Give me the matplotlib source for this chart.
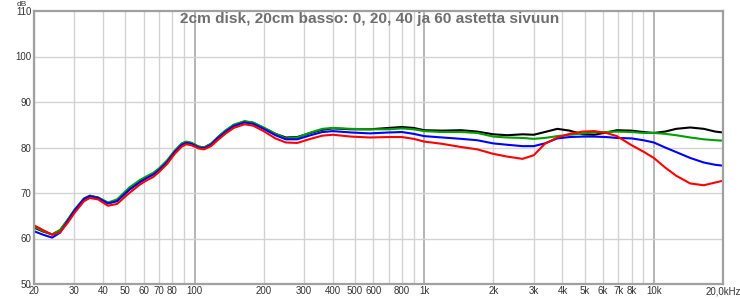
import matplotlib
matplotlib.use("Agg")
import matplotlib.pyplot as plt
import numpy as np

plt.rcParams['font.family'] = ['Liberation Sans', 'DejaVu Sans']

title = "2cm disk, 20cm basso: 0, 20, 40 ja 60 astetta sivuun"

freqs = [20, 22, 24, 26, 28, 30, 33, 35, 38, 42, 46, 52, 58, 62, 66, 70, 76, 82, 88, 92,
         97, 104, 110, 118, 126, 136, 148, 165, 180, 200, 225, 250, 280, 320, 360, 400,
         480, 580, 700, 800, 900, 1000, 1200, 1450, 1700, 2000, 2300, 2680, 3000, 3350,
         3800, 4300, 4900, 5500, 6200, 6900, 8000, 9000, 10000, 11200, 12500, 14400,
         16500, 18500, 20000]

deg0 = [62.4, 61.5, 60.9, 61.8, 64.0, 66.2, 68.7, 69.4, 69.0, 67.8, 68.3, 70.8, 72.6, 73.5,
        74.2, 75.2, 77.0, 79.2, 80.8, 81.2, 81.0, 80.2, 80.0, 80.8, 82.2, 83.6, 84.9, 85.7,
        85.4, 84.3, 83.0, 82.2, 82.3, 83.2, 83.9, 84.2, 84.0, 84.0, 84.3, 84.5, 84.3, 83.8,
        83.7, 83.8, 83.5, 82.9, 82.7, 82.9, 82.8, 83.4, 84.1, 83.7, 82.9, 82.8, 83.3, 83.8,
        83.7, 83.4, 83.2, 83.5, 84.1, 84.4, 84.1, 83.5, 83.3]

deg20 = [62.6, 61.6, 60.9, 61.9, 64.1, 66.3, 68.8, 69.4, 69.0, 67.9, 68.6, 71.2, 72.9, 73.7,
         74.4, 75.4, 77.2, 79.3, 80.9, 81.3, 81.0, 80.2, 80.0, 80.8, 82.2, 83.7, 85.0, 85.8,
         85.5, 84.4, 83.0, 82.0, 82.2, 83.3, 84.1, 84.3, 84.1, 84.0, 84.0, 84.2, 84.0, 83.6,
         83.4, 83.4, 83.2, 82.4, 82.2, 82.1, 81.9, 82.1, 82.5, 82.8, 83.1, 83.3, 83.4, 83.5,
         83.4, 83.2, 83.2, 83.0, 82.7, 82.2, 81.8, 81.6, 81.5]

deg40 = [61.6, 60.8, 60.2, 61.3, 63.8, 66.1, 68.7, 69.3, 68.9, 67.7, 68.2, 70.7, 72.4, 73.3,
         74.0, 75.0, 76.8, 79.0, 80.6, 81.0, 80.8, 80.0, 79.8, 80.6, 82.0, 83.4, 84.7, 85.5,
         85.2, 84.1, 82.7, 81.8, 81.8, 82.7, 83.4, 83.6, 83.3, 83.1, 83.3, 83.4, 83.0, 82.5,
         82.2, 81.9, 81.6, 80.9, 80.6, 80.3, 80.3, 80.9, 82.0, 82.3, 82.4, 82.4, 82.3, 82.1,
         82.0, 81.6, 81.1, 80.0, 79.0, 77.7, 76.7, 76.2, 76.0]

deg60 = [62.9, 61.8, 60.8, 61.4, 63.4, 65.6, 68.2, 68.9, 68.6, 67.2, 67.6, 70.0, 71.9, 72.8,
         73.5, 74.6, 76.4, 78.6, 80.2, 80.7, 80.5, 79.8, 79.6, 80.3, 81.6, 83.0, 84.3, 85.1,
         84.8, 83.6, 82.0, 81.1, 81.0, 81.9, 82.6, 82.8, 82.4, 82.2, 82.3, 82.3, 81.9, 81.3,
         80.8, 80.1, 79.6, 78.6, 78.0, 77.5, 78.3, 80.8, 82.2, 83.0, 83.5, 83.6, 83.2, 82.5,
         80.5, 79.1, 77.7, 75.6, 73.8, 72.1, 71.7, 72.3, 72.7]

series = [(deg0, '#000000'), (deg20, '#00a000'), (deg40, '#0000ff'), (deg60, '#ff0000')]

xtick_vals = [20, 30, 40, 50, 60, 70, 80, 100, 200, 300, 400, 500, 600, 800,
              1000, 2000, 3000, 4000, 5000, 6000, 7000, 8000, 10000, 20000]
xtick_labels = ['20', '30', '40', '50', '60', '70', '80', '100', '200', '300', '400',
                '500', '600', '800', '1k', '2k', '3k', '4k', '5k', '6k', '7k', '8k',
                '10k', '20,0kHz']
ytick_vals = [50, 60, 70, 80, 90, 100, 110]

fig = plt.figure(figsize=(7.4, 2.99), dpi=100)
ax = fig.add_axes([34/740, 1-284/299, (723-34)/740, (284-11)/299])
ax.set_xscale('log')
ax.set_xlim(20, 20000)
ax.set_ylim(50, 110)

# grid
minor = [m * d for d in (10, 100, 1000, 10000) for m in range(2, 10) if 20 <= m * d <= 20000]
for f in minor:
    if f in (100, 1000, 10000):
        continue
    ax.axvline(f, color='#d2d2d2', lw=1.0, zorder=0)
for f in (100, 1000, 10000):
    ax.axvline(f, color='#a8a8a8', lw=1.2, zorder=0)
for y in ytick_vals[1:-1]:
    ax.axhline(y, color='#d2d2d2', lw=1.0, zorder=0)

for vals, c in series:
    ax.plot(freqs, vals, color=c, lw=1.5, zorder=2, solid_capstyle='round',
            solid_joinstyle='round')

ax.set_xticks(xtick_vals)
ax.set_xticklabels(xtick_labels)
ax.xaxis.set_minor_locator(matplotlib.ticker.NullLocator())
ax.set_yticks(ytick_vals)
ax.set_yticklabels([str(v) for v in ytick_vals])
ax.tick_params(axis='both', length=0, labelsize=7, colors='#333333', pad=2)
ax.tick_params(axis='x', pad=1.5)

for s in ax.spines.values():
    s.set_color('#a0a0a0')
    s.set_linewidth(1.6)

fig.text(22/740, 1-6.3/299, 'dB', fontsize=6, color='#333333', ha='center', va='baseline')
fig.text(370/740, 1-11.5/299, title, ha='center', va='top',
         fontsize=11.1, color='#6e6e6e', fontweight='bold')

fig.savefig('out.png', dpi=100, facecolor='white')
